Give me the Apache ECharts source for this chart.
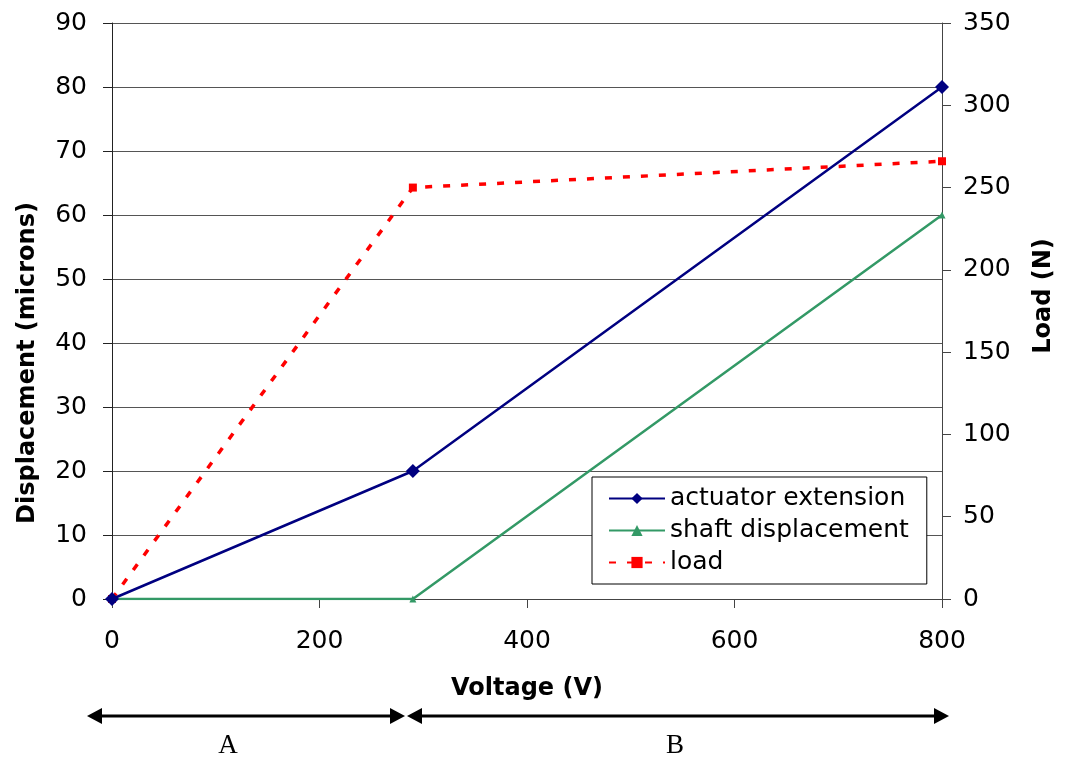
<!DOCTYPE html>
<html>
<head>
<meta charset="utf-8">
<script src="https://cdn.jsdelivr.net/npm/echarts@6/dist/echarts.min.js"></script>
<style>
  html, body { margin: 0; padding: 0; background: #fff; }
  #chart { width: 1066px; height: 760px; }
</style>
</head>
<body>
<div id="chart"></div>
<script>
const voltage = [0, 290, 800]
const actuatorExt = [0, 20, 80]
const shaftDisp = [0, 0, 60]
const load = [0, 250, 266]

const pair = (xs, ys) => xs.map((x, i) => [x, ys[i]])

const axisFont = { fontFamily: 'DejaVu Sans, sans-serif', fontSize: 25, color: '#000' }
const nameFont = { fontFamily: 'DejaVu Sans, sans-serif', fontSize: 24, fontWeight: 'bold', color: '#000' }

// arrow with heads at both ends (annotation under the x axis)
function arrow(x1, x2, y) {
  const h = 8, w = 15
  return [
    { type: 'line', shape: { x1: x1 + w, y1: y, x2: x2 - w, y2: y }, style: { stroke: '#000', lineWidth: 3 } },
    { type: 'polygon', shape: { points: [[x1, y], [x1 + w, y - h], [x1 + w, y + h]] }, style: { fill: '#000' } },
    { type: 'polygon', shape: { points: [[x2, y], [x2 - w, y - h], [x2 - w, y + h]] }, style: { fill: '#000' } }
  ]
}

const chart = echarts.init(document.getElementById('chart'))
const option = {
  animation: false,
  backgroundColor: '#fff',
  grid: { left: 112, right: 124, top: 23, bottom: 161 },
  legend: {
    orient: 'vertical',
    left: 592,
    top: 477,
    padding: [9, 18, 9, 16],
    itemGap: 7,
    itemWidth: 56,
    itemHeight: 14,
    borderColor: '#000',
    borderWidth: 1,
    backgroundColor: '#fff',
    textStyle: { fontFamily: 'DejaVu Sans, sans-serif', fontSize: 25, color: '#000' },
    data: ['actuator extension', 'shaft displacement', 'load']
  },
  xAxis: {
    type: 'value',
    min: 0,
    max: 800,
    interval: 200,
    name: 'Voltage (V)',
    nameLocation: 'middle',
    nameGap: 78,
    nameTextStyle: nameFont,
    axisLine: { lineStyle: { color: '#444', width: 1 } },
    axisTick: { show: true, length: 9, lineStyle: { color: '#444' } },
    axisLabel: Object.assign({ margin: 30 }, axisFont),
    splitLine: { show: false }
  },
  yAxis: [
    {
      type: 'value',
      min: 0,
      max: 90,
      interval: 10,
      name: 'Displacement (microns)',
      nameLocation: 'middle',
      nameRotate: 90,
      nameGap: 72,
      nameTextStyle: Object.assign({ padding: [0, 104, 0, 0] }, nameFont),
      axisLine: { show: true, onZero: false, lineStyle: { color: '#222', width: 1 } },
      axisTick: { show: true, length: 9, lineStyle: { color: '#222' } },
      axisLabel: Object.assign({ margin: 25 }, axisFont),
      splitLine: { show: true, lineStyle: { color: '#555', width: 1 } }
    },
    {
      type: 'value',
      min: 0,
      max: 350,
      interval: 50,
      position: 'right',
      name: 'Load (N)',
      nameLocation: 'middle',
      nameRotate: 90,
      nameGap: 90,
      nameTextStyle: Object.assign({ padding: [0, 0, 0, 30] }, nameFont),
      axisLine: { show: true, onZero: false, lineStyle: { color: '#444', width: 1 } },
      axisTick: { show: true, inside: false, length: 9, lineStyle: { color: '#444' } },
      axisLabel: Object.assign({ margin: 21 }, axisFont),
      splitLine: { show: false }
    }
  ],
  series: [
    {
      name: 'load',
      type: 'line',
      yAxisIndex: 1,
      data: pair(voltage, load),
      symbol: 'rect',
      symbolSize: 8,
      itemStyle: { color: '#ff0000' },
      lineStyle: { color: '#ff0000', width: 3.5, type: [7, 11] },
      z: 3
    },
    {
      name: 'shaft displacement',
      type: 'line',
      data: pair(voltage, shaftDisp),
      symbol: 'triangle',
      symbolSize: 7,
      itemStyle: { color: '#339966' },
      lineStyle: { color: '#339966', width: 2.5 },
      z: 4
    },
    {
      name: 'actuator extension',
      type: 'line',
      data: pair(voltage, actuatorExt),
      symbol: 'diamond',
      symbolSize: 14,
      itemStyle: { color: '#000080' },
      lineStyle: { color: '#000080', width: 2.5 },
      z: 5
    }
  ],
  graphic: [].concat(
    arrow(87, 405, 716),
    arrow(407, 949, 716),
    [
      { type: 'text', x: 228, y: 746, style: { text: 'A', fontFamily: 'Liberation Serif, Times New Roman, serif', fontSize: 27, fill: '#000', align: 'center', verticalAlign: 'middle' } },
      { type: 'text', x: 675, y: 746, style: { text: 'B', fontFamily: 'Liberation Serif, Times New Roman, serif', fontSize: 27, fill: '#000', align: 'center', verticalAlign: 'middle' } }
    ]
  )
}
chart.setOption(option)
window.onresize = function() {
  chart.resize()
}
</script>
</body>
</html>
